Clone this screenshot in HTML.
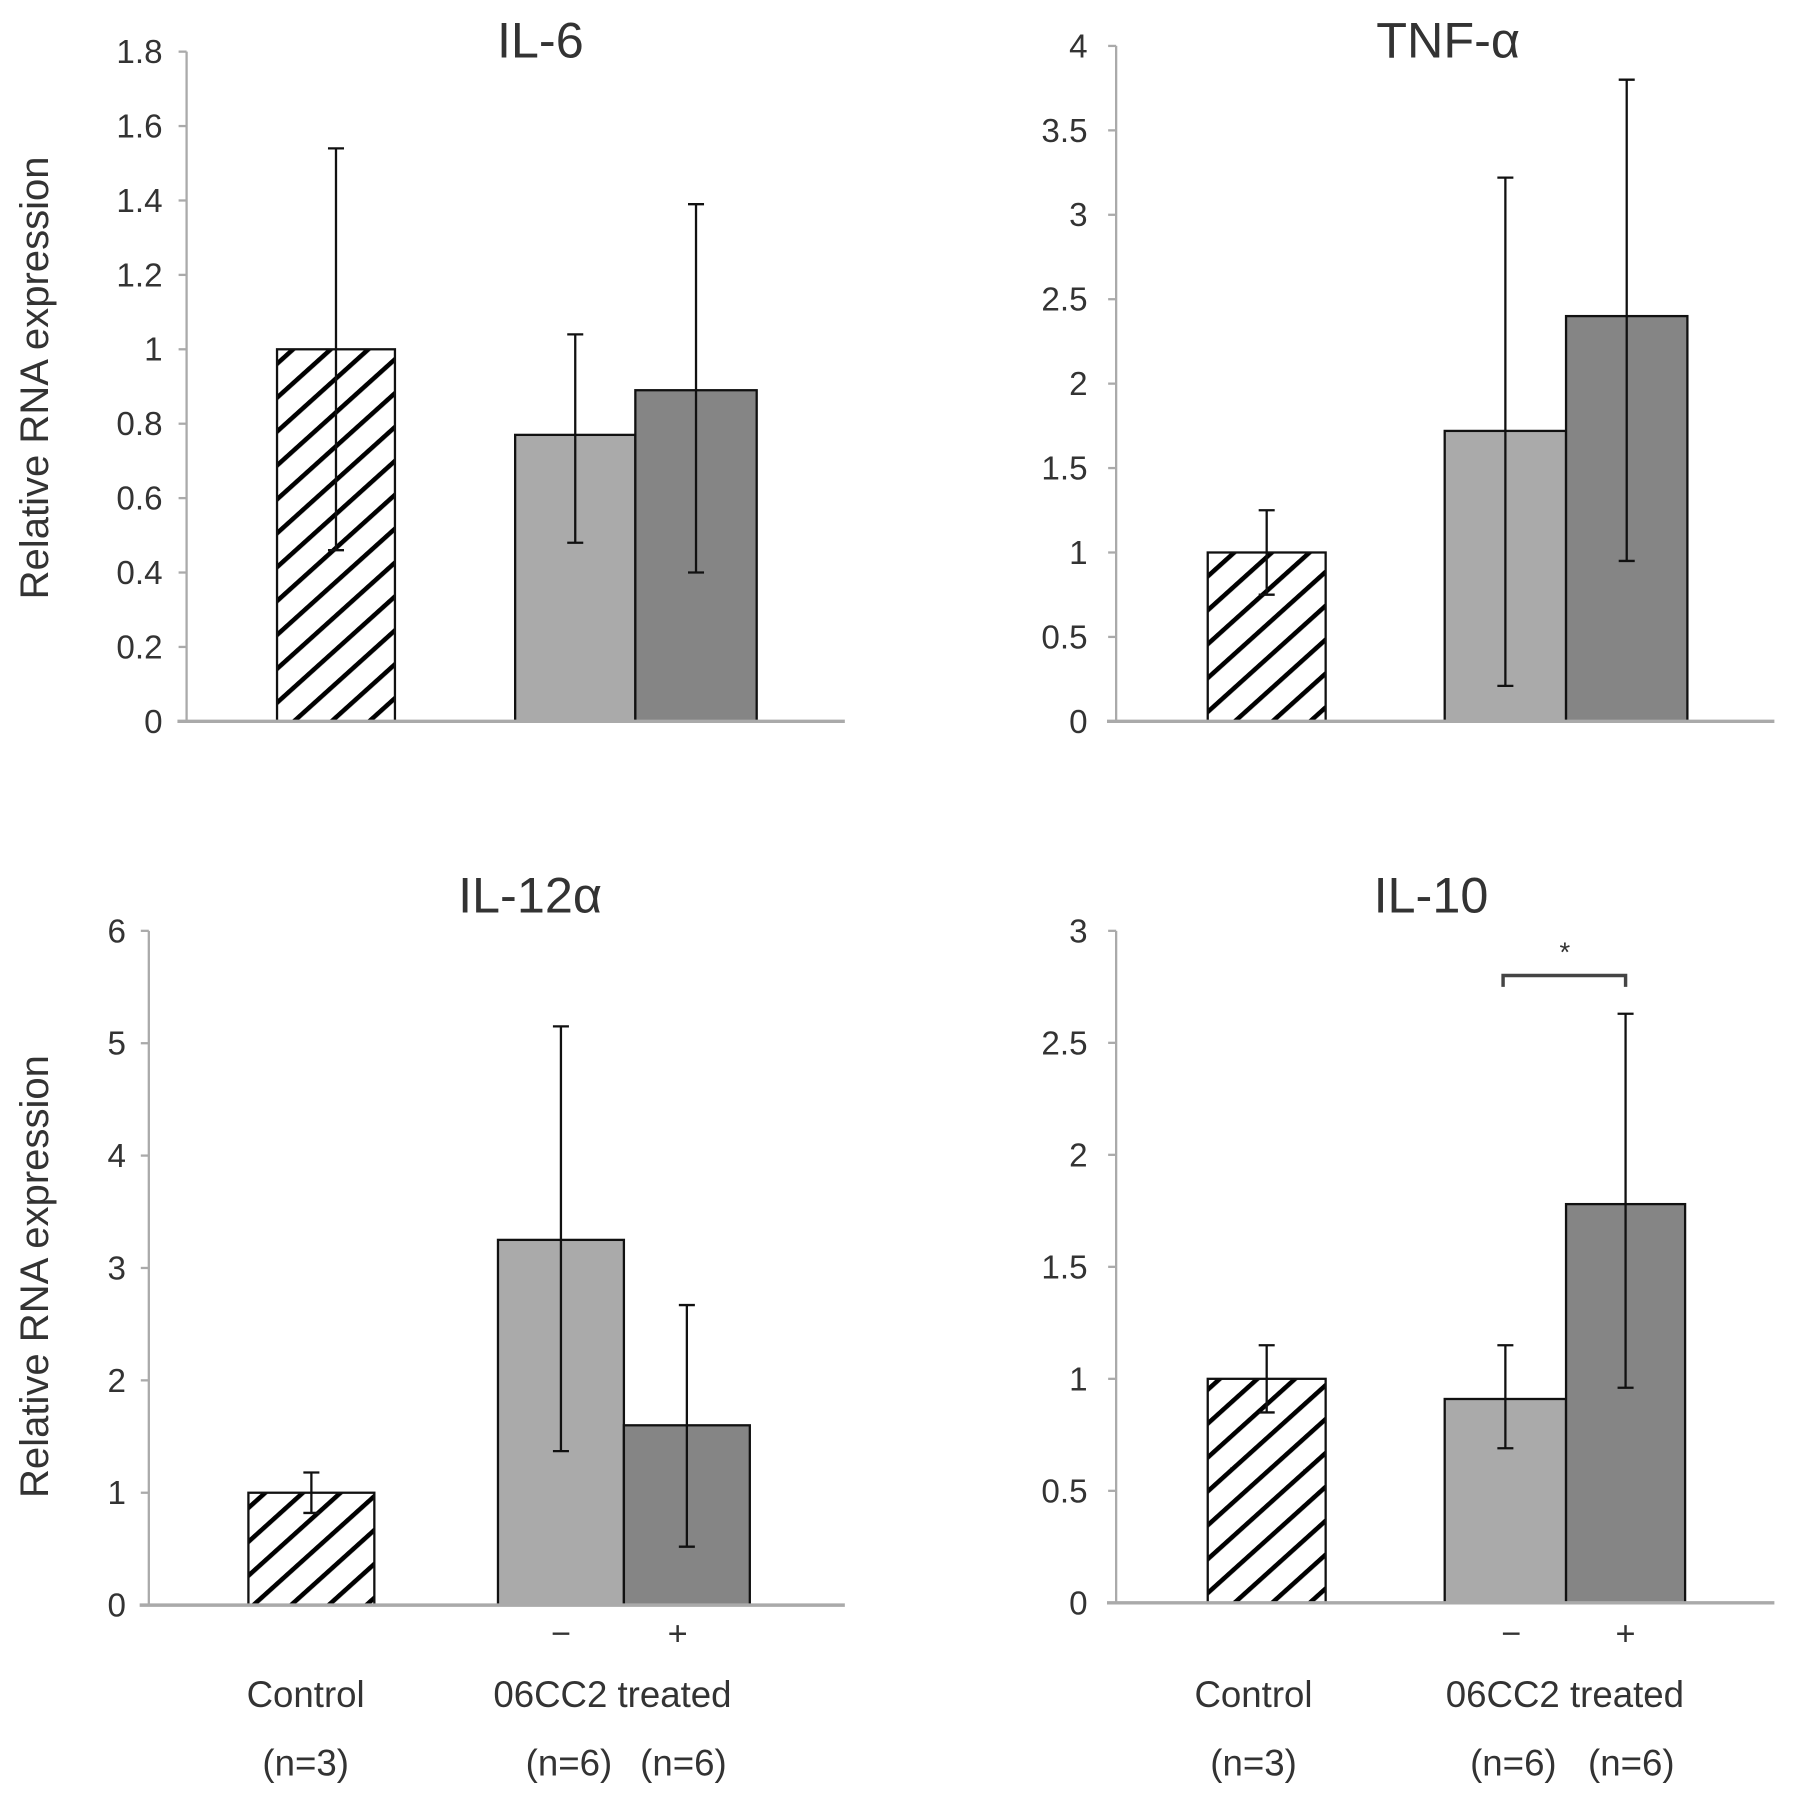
<!DOCTYPE html>
<html><head><meta charset="utf-8"><style>
html,body{margin:0;padding:0;background:#fff}
svg{display:block}
text{font-family:"Liberation Sans",sans-serif;fill:#333}
</style></head><body>
<svg id="fig" width="1795" height="1801" viewBox="0 0 1568 1573" xmlns="http://www.w3.org/2000/svg">
<defs>
<pattern id="hatch" patternUnits="userSpaceOnUse" width="22" height="22" patternTransform="rotate(-42)">
<rect width="22" height="22" fill="#fff"/>
<line x1="0" y1="0" x2="22" y2="0" stroke="#000" stroke-width="8"/>
</pattern>
</defs>
<g id="root"></g>
</svg>
<script>
const panelTitles = ["IL-6", "TNF-α", "IL-12α", "IL-10"];
const yMaxes = [1.8, 4, 6, 3];
const yTickLabels = [
  ["0","0.2","0.4","0.6","0.8","1","1.2","1.4","1.6","1.8"],
  ["0","0.5","1","1.5","2","2.5","3","3.5","4"],
  ["0","1","2","3","4","5","6"],
  ["0","0.5","1","1.5","2","2.5","3"]
];
const categories = ["Control", "06CC2 −", "06CC2 +"];
const means = [
  [1.0, 0.77, 0.89],
  [1.0, 1.72, 2.4],
  [1.0, 3.25, 1.6],
  [1.0, 0.91, 1.78]
];
const errLow = [
  [0.46, 0.48, 0.40],
  [0.75, 0.21, 0.95],
  [0.82, 1.37, 0.52],
  [0.85, 0.69, 0.96]
];
const errHigh = [
  [1.54, 1.04, 1.39],
  [1.25, 3.22, 3.80],
  [1.18, 5.15, 2.67],
  [1.15, 1.15, 2.63]
];

const NS = "http://www.w3.org/2000/svg";
const root = document.getElementById('root');
function mk(tag, attrs, parent, txt){
  const e = document.createElementNS(NS, tag);
  for (const k in attrs) e.setAttribute(k, attrs[k]);
  if (txt !== undefined) e.textContent = txt;
  (parent||root).appendChild(e);
  return e;
}
const layouts = [
  {ax:163, top:45, bot:630, xl:155, xr:738, lblX:142, tx:472, ty:50, bars:[[242,345],[450,555],[555,661]]},
  {ax:975, top:40, bot:630, xl:967, xr:1550, lblX:950, tx:1265, ty:50, bars:[[1055,1158],[1262,1368],[1368,1474]]},
  {ax:130, top:813, bot:1402, xl:122, xr:738, lblX:110, tx:463, ty:797, bars:[[217,327],[435,545],[545,655]]},
  {ax:975, top:813, bot:1400, xl:967, xr:1550, lblX:950, tx:1250, ty:797, bars:[[1055,1158],[1262,1368],[1368,1472]]}
];
const fills = ["url(#hatch)", "#aaaaaa", "#858585"];

layouts.forEach((L, p) => {
  const g = mk('g', {});
  
  
  const y = v => L.bot - (v / yMaxes[p]) * (L.bot - L.top);
  const t = mk('text', {x:L.tx, y:L.ty, 'font-size':44, 'text-anchor':'middle'}, g, panelTitles[p]);
  
  
  const ya = mk('line', {x1:L.ax, y1:L.top, x2:L.ax, y2:L.bot, stroke:'#aaa', 'stroke-width':2}, g);
  
  
  yTickLabels[p].forEach((lab) => {
    const v = parseFloat(lab);
    mk('line', {x1:L.ax-7, y1:y(v), x2:L.ax, y2:y(v), stroke:'#aaa', 'stroke-width':2}, g);
    const tl = mk('text', {x:L.lblX, y:y(v)+10, 'font-size':29, 'text-anchor':'end'}, g, lab);
    
    
  });
  means[p].forEach((m, i) => {
    const [x0, x1] = L.bars[i];
    const r = mk('rect', {x:x0, y:y(m), width:x1-x0, height:L.bot-y(m), fill:fills[i], stroke:'#111', 'stroke-width':2}, g);
    
    
    const cx = (x0 + x1) / 2;
    const eg = mk('g', {stroke:'#111', 'stroke-width':2}, g);
    
    
    mk('line', {x1:cx, y1:y(errLow[p][i]), x2:cx, y2:y(errHigh[p][i])}, eg);
    mk('line', {x1:cx-7, y1:y(errLow[p][i]), x2:cx+7, y2:y(errLow[p][i])}, eg);
    mk('line', {x1:cx-7, y1:y(errHigh[p][i]), x2:cx+7, y2:y(errHigh[p][i])}, eg);
  });
  const xa = mk('line', {x1:L.xl, y1:L.bot, x2:L.xr, y2:L.bot, stroke:'#aaa', 'stroke-width':3}, g);
  
  
});

[[30,330],[30,1115]].forEach(([x,yy]) => {
  const t = mk('text', {x:x, y:yy, 'font-size':35, 'text-anchor':'middle', transform:`rotate(-90 ${x} ${yy})`, dy:12}, root, 'Relative RNA expression');
  
  
});

const br = mk('path', {d:'M1313 862 V852 H1420 V862', fill:'none', stroke:'#444', 'stroke-width':3});


const st = mk('text', {x:1367, y:840, 'font-size':24, 'text-anchor':'middle', fill:'#666'}, root, '*');



const xLabels = [
  ['−',490,1437,30],['+',592,1437,30],['−',1320,1437,30],['+',1420,1437,30],
  ['Control',267,1491,32],['(n=3)',267,1551,32],['06CC2 treated',535,1491,32],['(n=6)',497,1551,32],['(n=6)',597,1551,32],
  ['Control',1095,1491,32],['(n=3)',1095,1551,32],['06CC2 treated',1367,1491,32],['(n=6)',1322,1551,32],['(n=6)',1425,1551,32]
];
xLabels.forEach(([s,x,yy,fs]) => {
  const t = mk('text', {x:x, y:yy, 'font-size':fs, 'text-anchor':'middle'}, root, s);
  
  
});
</script>
</body></html>
